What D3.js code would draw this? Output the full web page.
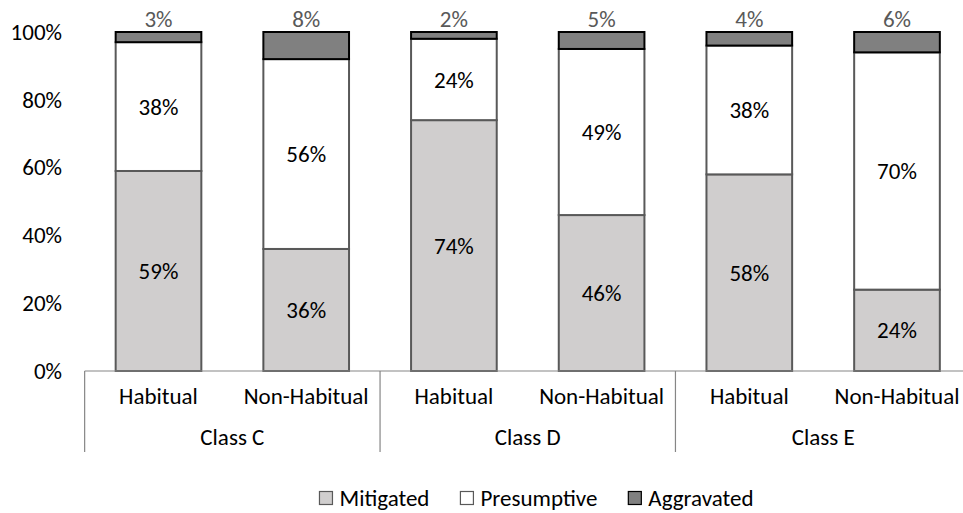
<!DOCTYPE html>
<html><head><meta charset="utf-8">
<script src="https://cdn.jsdelivr.net/npm/d3@7"></script>
<style>
body{margin:0;background:#fff;}
svg text{font-family:Carlito,Lato,"Open Sans",sans-serif;}
</style></head>
<body>
<svg id="chart" width="963" height="513"></svg>
<script>
const classes = ["Class C","Class D","Class E"];
const subCategories = ["Habitual","Non-Habitual"];
const seriesNames = ["Mitigated","Presumptive","Aggravated"];
const mitigated   = [59,36,74,46,58,24];
const presumptive = [38,56,24,49,38,70];
const aggravated  = [3,8,2,5,4,6];
const yTicks = [0,20,40,60,80,100];

const svg = d3.select("#chart");
const W=963,H=513;
const FS="23px";
const x0=84.65, slot=147.7;
const nBars = classes.length*subCategories.length;

const barKeys = d3.range(nBars);
const x = d3.scaleBand().domain(barKeys).range([x0, x0+slot*nBars]).paddingInner(0.42).paddingOuter(0.21);
const y = d3.scaleLinear().domain([0,100]).range([371,32]);

const rows = barKeys.map(i=>({i, Mitigated:mitigated[i], Presumptive:presumptive[i], Aggravated:aggravated[i]}));
const stack = d3.stack().keys(seriesNames)(rows);
const fills = {Mitigated:"#d0cece",Presumptive:"#ffffff",Aggravated:"#808080"};
const strokes = {Mitigated:"#595959",Presumptive:"#595959",Aggravated:"#000000"};

// y-axis labels
const yAxis = d3.axisLeft(y).tickValues(yTicks).tickFormat(d=>d+"%").tickSize(0).tickPadding(0);
const ya = svg.append("g").attr("transform","translate(62,0)").call(yAxis);
ya.select(".domain").remove();
ya.selectAll("text").attr("font-size",FS).attr("fill","#000").attr("font-family","Carlito,Lato,sans-serif");

// bars
stack.forEach(layer=>{
  svg.append("g").selectAll("rect").data(layer).join("rect")
    .attr("x",d=>x(d.data.i))
    .attr("width",x.bandwidth())
    .attr("y",d=>y(d[1]))
    .attr("height",d=>y(d[0])-y(d[1]))
    .attr("fill",fills[layer.key])
    .attr("stroke",strokes[layer.key])
    .attr("stroke-width",2);
});

// labels inside
stack.slice(0,2).forEach(layer=>{
  svg.append("g").selectAll("text").data(layer).join("text")
    .attr("x",d=>x(d.data.i)+x.bandwidth()/2)
    .attr("y",d=>(y(d[0])+y(d[1]))/2)
    .attr("dy","0.35em")
    .attr("text-anchor","middle")
    .attr("font-size",FS)
    .attr("fill","#000")
    .text(d=>(d[1]-d[0])+"%");
});
// aggravated labels above
svg.append("g").selectAll("text").data(stack[2]).join("text")
  .attr("x",d=>x(d.data.i)+x.bandwidth()/2)
  .attr("y",y(100)-13)
  .attr("dy","0.35em")
  .attr("text-anchor","middle")
  .attr("font-size",FS)
  .attr("fill","#595959")
  .text(d=>(d[1]-d[0])+"%");

// category axis
const axisG = svg.append("g");
const axisColor="#868686";
axisG.append("line").attr("x1",x0).attr("x2",W).attr("y1",y(0)).attr("y2",y(0)).attr("stroke",axisColor).attr("stroke-width",1.2);
const groupScale = d3.scaleBand().domain(classes).range([x0, x0+slot*nBars]);
classes.forEach((c,gi)=>{
  const gx = groupScale(c);
  axisG.append("line").attr("x1",gx).attr("x2",gx).attr("y1",y(0)).attr("y2",452).attr("stroke",axisColor).attr("stroke-width",1.2);
  axisG.append("text").attr("x",gx+groupScale.bandwidth()/2).attr("y",437).attr("dy","0.35em")
    .attr("text-anchor","middle").attr("font-size",FS).attr("fill","#000").text(c);
  subCategories.forEach((s,si)=>{
    const i = gi*subCategories.length+si;
    axisG.append("text").attr("x",x(i)+x.bandwidth()/2).attr("y",396).attr("dy","0.35em")
      .attr("text-anchor","middle").attr("font-size",FS).attr("fill","#000").text(s);
  });
});

// legend
const leg = svg.append("g");
let lx=0;
seriesNames.forEach((s,k)=>{
  const g = leg.append("g");
  g.append("rect").attr("x",0).attr("y",-6.5).attr("width",13).attr("height",13)
    .attr("fill",fills[s]).attr("stroke",k===2?"#000":"#595959").attr("stroke-width",1.2);
  const t = g.append("text").attr("x",20).attr("y",0).attr("dy","0.35em").attr("font-size",FS).attr("fill","#000").text(s);
  const w = 20 + t.node().getComputedTextLength();
  g.attr("transform",`translate(${lx},0)`);
  lx += w + 31;
});
const totalW = lx-31;
leg.attr("transform",`translate(${536.5-totalW/2},498)`);
</script>
</body></html>
